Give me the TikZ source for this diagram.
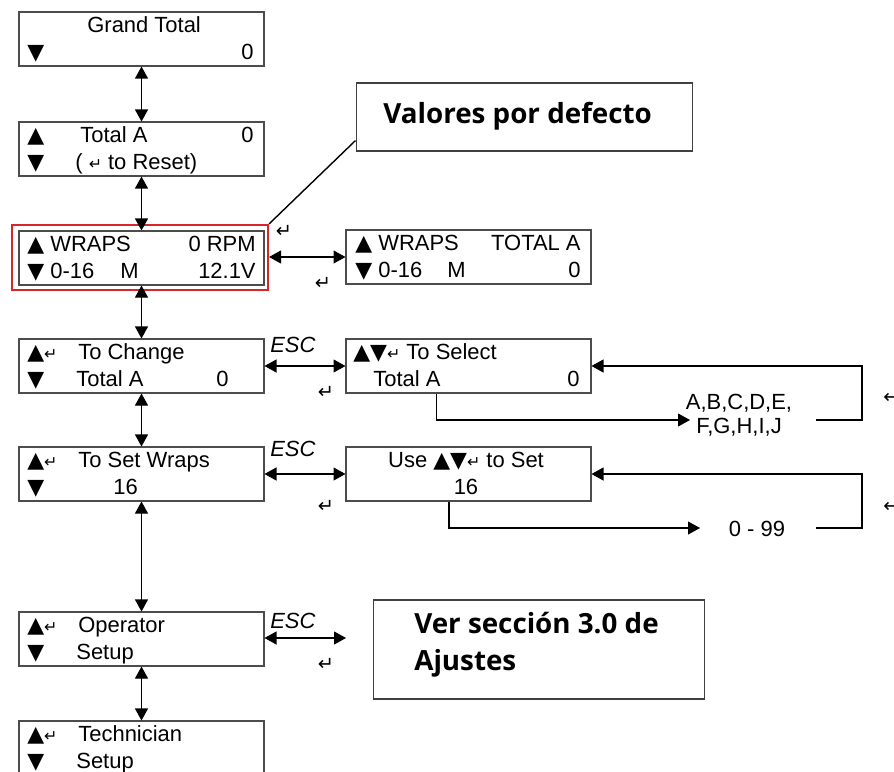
\documentclass[tikz,border=0pt]{standalone}
\usepackage{fontspec}
\setmainfont{Liberation Sans}
\newfontfamily\symfont{DejaVu Sans}
\newfontfamily\notefont{Open Sans}
\usetikzlibrary{arrows.meta,positioning}

\definecolor{hilite}{RGB}{218,36,44}
\newcommand{\lcdfont}{\fontsize{12.5}{15}\selectfont}
\newcommand{\tup}{{\symfont\char"25B2}}
\newcommand{\tdn}{{\symfont\char"25BC}}
\newcommand{\entr}{{\symfont\fontsize{9}{9}\selectfont\char"21B5}}
\newcommand{\bigentr}{{\symfont\fontsize{11}{11}\selectfont\char"21B5}}

\begin{document}
\begin{tikzpicture}[
  x=0.02cm, y=-0.02cm,
  lcd/.style={draw=black!70, line width=0.6pt, minimum width=4.9cm,
    minimum height=1.08cm, inner sep=0pt},
  note/.style={draw=black!75, line width=0.6pt, inner sep=0pt},
  txt/.style={inner sep=0pt, anchor=base west, font=\lcdfont},
  rtxt/.style={txt, anchor=base east},
  ctxt/.style={txt, anchor=base},
  esc/.style={txt, font=\lcdfont\itshape},
  key/.style={inner sep=0pt, anchor=center},
  bold/.style={inner sep=0pt, anchor=base west, align=left,
    font=\notefont\bfseries\fontsize{15.8}{21}\selectfont},
  twoway/.style={{Triangle[length=2.4mm,width=2.6mm]}-{Triangle[length=2.4mm,width=2.6mm]},
    line width=0.6pt},
  oneway/.style={-{Triangle[length=2.4mm,width=2.6mm]}, line width=0.6pt}
]
\useasboundingbox (0,0) rectangle (894,772);

% left column of screens
\node[lcd] (gt) at (141.5,39) {};
\node[lcd] (ta) at (141.5,149) {};
\node[lcd] (wr) at (141.5,258) {};
\node[draw=hilite, line width=1.2pt, minimum width=5.12cm,
  minimum height=1.3cm, inner sep=0pt] (mark) at (140,257.5) {};
\node[lcd] (chg) at (141.5,366) {};
\node[lcd] (sw) at (141.5,474) {};
\node[lcd] (op) at (141.5,639) {};
\node[lcd] (tech) at (141.5,748) {};

% right column of screens
\node[lcd] (wt) at (468.5,257) {};
\node[lcd] (sel) at (468.5,366) {};
\node[lcd] (use) at (468.5,474) {};

% notes
\node[note, minimum width=6.74cm, minimum height=1.36cm] (val) at (524.5,117) {};
\node[note, minimum width=6.64cm, minimum height=1.98cm] (ver) at (539,649.5) {};
\node[bold] (valtxt) at (383,123) {Valores por defecto};
\node[bold] (vertxt) at (414,670) {Ver sección 3.0 de\\Ajustes};

% screen texts
\node[txt] (gt1) at (87,32) {Grand Total};
\node[txt] (gt2) at (27,59) {\tdn};
\node[rtxt] (gt3) at (254,59) {0};

\node[txt] (ta1) at (27,142) {\tup};
\node[txt] (ta2) at (80,142) {Total A};
\node[rtxt] (ta3) at (254,142) {0};
\node[txt] (ta4) at (27,169) {\tdn};
\node[txt] (ta5) at (75,169) {( \entr\ to Reset)};

\node[txt] (wr1) at (27,251) {\tup\ WRAPS};
\node[rtxt] (wr2) at (256,251) {0 RPM};
\node[txt] (wr3) at (27,278) {\tdn\ 0-16};
\node[txt] (wr4) at (120,278) {M};
\node[rtxt] (wr5) at (256,278) {12.1V};

\node[txt] (wt1) at (355,250) {\tup\ WRAPS};
\node[rtxt] (wt2) at (581,250) {TOTAL A};
\node[txt] (wt3) at (355,277) {\tdn\ 0-16};
\node[txt] (wt4) at (447,277) {M};
\node[rtxt] (wt5) at (581,277) {0};

\node[txt] (chg1) at (27,359) {\tup\entr};
\node[txt] (chg2) at (78,359) {To Change};
\node[txt] (chg3) at (27,386) {\tdn};
\node[txt] (chg4) at (76,386) {Total A};
\node[rtxt] (chg5) at (229,386) {0};

\node[txt] (sel1) at (353,359) {\tup\tdn\entr\ To Select};
\node[txt] (sel2) at (373,386) {Total A};
\node[rtxt] (sel3) at (580,386) {0};

\node[txt] (sw1) at (27,467) {\tup\entr};
\node[txt] (sw2) at (78,467) {To Set Wraps};
\node[txt] (sw3) at (27,494) {\tdn};
\node[txt] (sw4) at (113,494) {16};

\node[ctxt] (use1) at (466,467) {Use \tup\tdn\entr\ to Set};
\node[ctxt] (use2) at (466,494) {16};

\node[txt] (op1) at (27,632) {\tup\entr};
\node[txt] (op2) at (78,632) {Operator};
\node[txt] (op3) at (27,659) {\tdn};
\node[txt] (op4) at (76,659) {Setup};

\node[txt] (tech1) at (27,741) {\tup\entr};
\node[txt] (tech2) at (78,741) {Technician};
\node[txt] (tech3) at (27,768) {\tdn};
\node[txt] (tech4) at (76,768) {Setup};

% key labels
\node[esc] (esc1) at (270,352) {ESC};
\node[esc] (esc2) at (270,456) {ESC};
\node[esc] (esc3) at (270,628) {ESC};
\node[key] (ent1) at (284,231) {\bigentr};
\node[key] (ent2) at (323,283) {\bigentr};
\node[key] (ent3) at (326,392) {\bigentr};
\node[key] (ent4) at (326,506) {\bigentr};
\node[key] (ent5) at (326,664) {\bigentr};
\node[key, anchor=west] (ent6) at (883,397) {\bigentr};
\node[key, anchor=west] (ent7) at (883,506) {\bigentr};

% choice lists
\node[key, align=center, font=\fontsize{12.5}{13.5}\selectfont]
  (abc) at (739,415) {A,B,C,D,E,\\F,G,H,I,J};
\node[ctxt] (rng) at (757,536) {0 - 99};

% menu arrows
\draw[twoway] (gt) -- (ta);
\draw[twoway] (ta) -- (wr);
\draw[twoway] (wr) -- (chg);
\draw[twoway] (chg) -- (sw);
\draw[twoway] (sw) -- (op);
\draw[twoway] (op) -- (tech);
\draw[twoway] (mark.east |- wt.west) -- (wt.west);
\draw[twoway] (chg) -- (sel);
\draw[twoway] (sw) -- (use);
\coordinate (opend) at (346,638);
\draw[twoway] (op.east |- opend) -- (opend);

% selection loops
\coordinate (abcin) at (690,420);
\coordinate (abcout) at (816,420);
\coordinate (abcup) at (862,420);
\draw[oneway] ([xshift=1.82cm]sel.south west) |- (abcin);
\draw[oneway] (abcout) -- (abcup) |- (sel.east);
\coordinate (rngin) at (700,528);
\coordinate (rngout) at (816,528);
\coordinate (rngup) at (862,528);
\draw[oneway] ([xshift=2.07cm]use.south west) |- (rngin);
\draw[oneway] (rngout) -- (rngup) |- (use.east);

% leader to highlighted screen
\draw[line width=0.8pt] (mark.north east) -- ([yshift=0.22cm]val.south west);
\end{tikzpicture}
\end{document}
